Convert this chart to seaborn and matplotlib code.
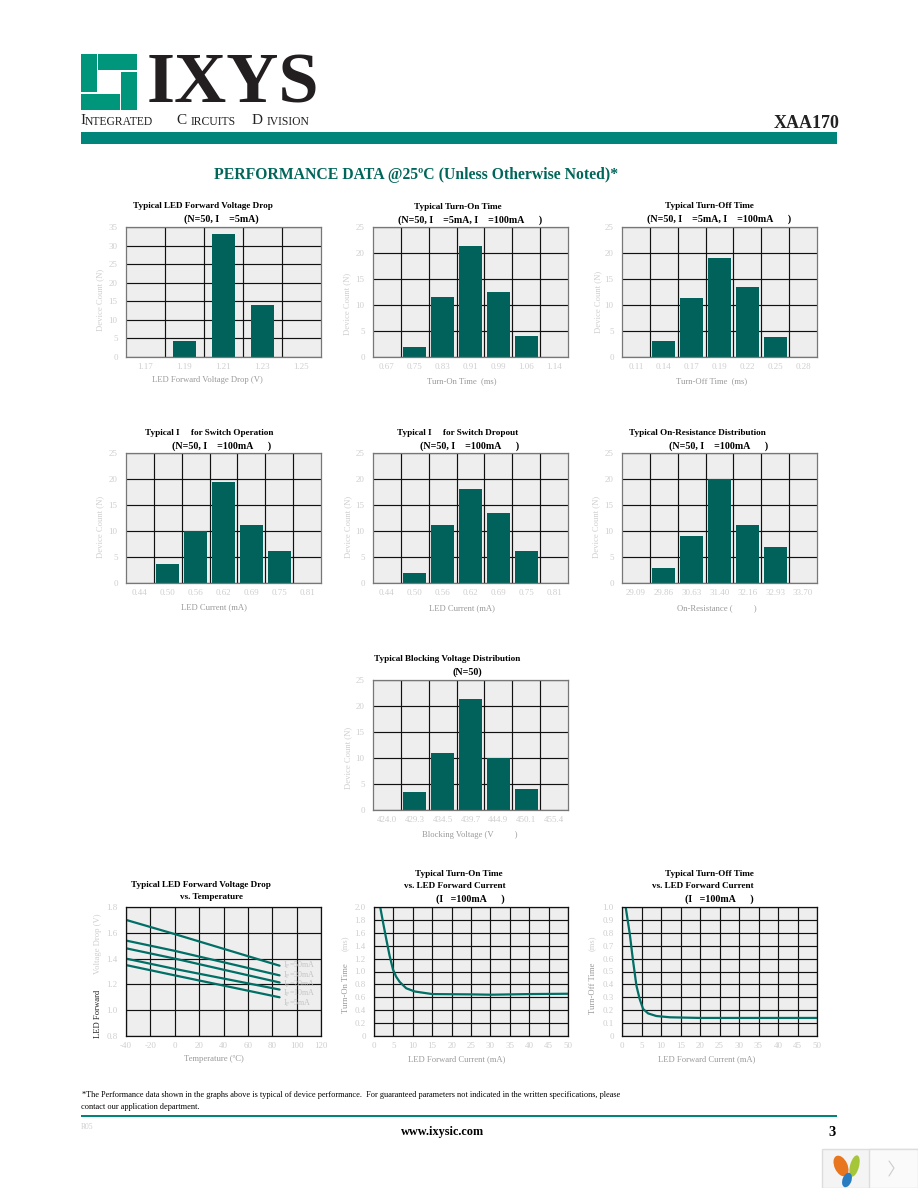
import matplotlib
matplotlib.use("Agg")
import matplotlib.pyplot as plt
import numpy as np
import seaborn as sns
from matplotlib.patches import Ellipse, Rectangle

W, H = 918, 1188

# distribution data
vf_bins = ["1.17", "1.19", "1.21", "1.23", "1.25"]
vf_counts = [0, 4.2, 33, 14, 0]
ton_bins = ["0.67", "0.75", "0.83", "0.91", "0.99", "1.06", "1.14"]
ton_counts = [0, 2, 11.5, 21.3, 12.5, 4.1, 0]
toff_bins = ["0.11", "0.14", "0.17", "0.19", "0.22", "0.25", "0.28"]
toff_counts = [0, 3.1, 11.4, 19, 13.4, 3.9, 0]
led_bins = ["0.44", "0.50", "0.56", "0.62", "0.69", "0.75", "0.81"]
iop_counts = [0, 3.7, 10, 19.4, 11.1, 6.1, 0]
idrop_counts = [0, 1.9, 11.2, 18, 13.5, 6.2, 0]
ron_bins = ["29.09", "29.86", "30.63", "31.40", "32.16", "32.93", "33.70"]
ron_counts = [0, 2.8, 9.1, 20, 11.1, 7, 0]
vb_bins = ["424.0", "429.3", "434.5", "439.7", "444.9", "450.1", "455.4"]
vb_counts = [0, 3.5, 11, 21.4, 10, 4.1, 0]

# curves
temp = [-40, 0, 86]
vf_50ma = [1.70, 1.59, 1.345]
vf_30ma = [1.54, 1.46, 1.27]
vf_20ma = [1.48, 1.40, 1.215]
vf_10ma = [1.40, 1.32, 1.16]
vf_5ma = [1.35, 1.27, 1.10]
vf_names = ["I$_F$=50mA", "I$_F$=30mA", "I$_F$=20mA", "I$_F$=10mA", "I$_F$=5mA"]
ton_if = [1.6, 2.4, 3.2, 4.0, 4.9, 5.7, 6.6, 8.3, 10.5, 15, 25.5, 30, 40, 50]
ton_ms = [2.0, 1.74, 1.49, 1.25, 1.03, 0.92, 0.84, 0.74, 0.69, 0.65, 0.645, 0.64, 0.65, 0.655]
toff_if = [0.94, 2, 2.8, 3.7, 4.5, 5.4, 6.7, 8.8, 12.3, 20, 35, 50]
toff_ms = [1.0, 0.79, 0.59, 0.39, 0.29, 0.21, 0.175, 0.155, 0.145, 0.14, 0.14, 0.14]

DARK = "#00625A"
LINE = "#006F66"
TEAL = "#00857A"
FAINT = "#CFCFCF"
LABEL = "#9A9A9A"

sns.set_theme(style="white")
plt.rcParams["font.family"] = ["Liberation Serif", "DejaVu Serif"]
plt.rcParams["mathtext.default"] = "regular"
plt.rcParams["axes.unicode_minus"] = False

fig = plt.figure(figsize=(W / 100, H / 100), dpi=100, facecolor="white")


def px(x, y):
    return x / W, 1 - y / H


def put(x, y, s, size=6.5, color="black", ha="center", weight="normal", rot=0):
    fx, fy = px(x, y)
    fig.text(fx, fy, s, fontsize=size, color=color, ha=ha, va="center",
             fontweight=weight, rotation=rot)


def make_axes(left, top, right, bottom):
    ax = fig.add_axes([left / W, 1 - bottom / H, (right - left) / W, (bottom - top) / H])
    ax.set_facecolor("#EEEEEE")
    ax.set_axisbelow(True)
    return ax


def finish(ax, edge):
    ax.set_xlabel("")
    ax.set_ylabel("")
    ax.tick_params(which="both", length=0, labelsize=6.5, labelcolor=FAINT)
    ax.tick_params(axis="y", pad=6)
    ax.tick_params(axis="x", pad=4)
    for s in ax.spines.values():
        s.set_visible(True)
        s.set_color(edge)
        s.set_linewidth(0.9)


def bar_panel(box, bins, counts, ymax, width=0.82):
    ax = make_axes(*box)
    sns.barplot(x=bins, y=counts, color=DARK, saturation=1, width=width, linewidth=0, ax=ax)
    ax.set_xlim(-0.5, len(bins) - 0.5)
    ax.set_ylim(0, ymax)
    ax.set_yticks(np.arange(0, ymax + 1, 5))
    ax.set_xticks(np.arange(len(bins) - 1) + 0.5, minor=True)
    ax.grid(True, which="major", axis="y", color="#111111", lw=0.85)
    ax.grid(True, which="minor", axis="x", color="#111111", lw=0.85)
    ax.grid(False, which="major", axis="x")
    finish(ax, "#777777")
    return ax


def line_axes(box, xlim, xstep, ylim, ystep):
    ax = make_axes(*box)
    ax.set_xlim(*xlim)
    ax.set_ylim(*ylim)
    ax.set_xticks(np.arange(xlim[0], xlim[1] + 1, xstep))
    ax.set_yticks(np.arange(ylim[0], ylim[1] + ystep / 2, ystep))
    ax.grid(True, color="#111111", lw=0.85)
    finish(ax, "#111111")
    return ax


bar_panel((126, 227, 321, 357), vf_bins, vf_counts, 35, width=0.59)
bar_panel((373, 227, 568, 357), ton_bins, ton_counts, 25)
bar_panel((622, 227, 817, 357), toff_bins, toff_counts, 25)
bar_panel((126, 453, 321, 583), led_bins, iop_counts, 25)
bar_panel((373, 453, 568, 583), led_bins, idrop_counts, 25)
bar_panel((622, 453, 817, 583), ron_bins, ron_counts, 25)
bar_panel((373, 680, 568, 810), vb_bins, vb_counts, 25)

# forward voltage vs temperature
ax = line_axes((126, 907, 321, 1036), (-40, 120), 20, (0.8, 1.8), 0.2)
ax.set_yticklabels(["0.8", "1.0", "1.2", "1.4", "1.6", "1.8"])
for vals in [vf_50ma, vf_30ma, vf_20ma, vf_10ma, vf_5ma]:
    sns.lineplot(x=temp, y=vals, color=LINE, lw=1.6, ax=ax)
finish(ax, "#111111")
for name, yv in zip(vf_names, [1.345, 1.27, 1.20, 1.13, 1.05]):
    ax.text(89, yv, name, fontsize=5.8, color="#C4C4C4", va="center")

# turn on / turn off vs LED current
ax = line_axes((374, 907, 568, 1036), (0, 50), 5, (0, 2.0), 0.2)
ax.set_yticklabels(["0", "0.2", "0.4", "0.6", "0.8", "1.0", "1.2", "1.4", "1.6", "1.8", "2.0"])
sns.lineplot(x=ton_if, y=ton_ms, color=LINE, lw=1.6, ax=ax)
finish(ax, "#111111")

ax = line_axes((622, 907, 817, 1036), (0, 50), 5, (0, 1.0), 0.1)
ax.set_yticklabels(["0", "0.1", "0.2", "0.3", "0.4", "0.5", "0.6", "0.7", "0.8", "0.9", "1.0"])
sns.lineplot(x=toff_if, y=toff_ms, color=LINE, lw=1.6, ax=ax)
finish(ax, "#111111")

# panel titles
titles = [
    (203, 206, "Typical LED Forward Voltage Drop"), (221, 219, "(N=50, I    =5mA)"),
    (458, 207, "Typical Turn-On Time"), (470, 220, "(N=50, I    =5mA, I    =100mA      )"),
    (709, 206, "Typical Turn-Off Time"), (719, 219, "(N=50, I    =5mA, I    =100mA      )"),
    (209, 433, "Typical I     for Switch Operation"), (222, 446, "(N=50, I    =100mA      )"),
    (458, 433, "Typical I     for Switch Dropout"), (470, 446, "(N=50, I    =100mA      )"),
    (697, 433, "Typical On-Resistance Distribution"), (719, 446, "(N=50, I    =100mA      )"),
    (447, 659, "Typical Blocking Voltage Distribution"), (467, 672, "(N=50)"),
    (201, 885, "Typical LED Forward Voltage Drop"), (212, 897, "vs. Temperature"),
    (459, 874, "Typical Turn-On Time"), (455, 886, "vs. LED Forward Current"), (470, 899, "(I   =100mA      )"),
    (709, 874, "Typical Turn-Off Time"), (703, 886, "vs. LED Forward Current"), (719, 899, "(I   =100mA      )"),
]
for x, y, s in titles:
    put(x, y, s, size=7.2 if s.startswith("(") else 6.6, weight="bold")

# axis labels
x_labels = [
    (207, 380, "LED Forward Voltage Drop (V)"), (462, 381, "Turn-On Time  (ms)"),
    (712, 381, "Turn-Off Time  (ms)"), (214, 607, "LED Current (mA)"),
    (462, 608, "LED Current (mA)"), (717, 608, "On-Resistance (          )"),
    (470, 835, "Blocking Voltage (V          )"), (214, 1059, "Temperature (ºC)"),
    (457, 1059, "LED Forward Current (mA)"), (707, 1059, "LED Forward Current (mA)"),
]
for x, y, s in x_labels:
    put(x, y, s, color=LABEL, size=6.2)

y_labels = [(100, 300), (347, 304), (598, 302), (100, 527), (348, 527), (596, 527), (348, 758)]
for x, y in y_labels:
    put(x, y, "Device Count (N)", color=FAINT, size=6.2, rot=90)
put(98, 1014, "LED Forward", color="#222222", size=6.2, rot=90)
put(98, 944, "Voltage Drop (V)", color=FAINT, size=6.2, rot=90)
put(346, 988, "Turn-On Time", color=LABEL, size=6.2, rot=90)
put(346, 943, "(ms)", color=FAINT, size=6.2, rot=90)
put(593, 988, "Turn-Off Time", color=LABEL, size=6.2, rot=90)
put(593, 943, "(ms)", color=FAINT, size=6.2, rot=90)

# page furniture, drawn in pixel coordinates
page = fig.add_axes([0, 0, 1, 1], zorder=-1)
page.set_xlim(0, W)
page.set_ylim(H, 0)
page.axis("off")
logo = "#00967C"
for x0, y0, x1, y1 in [(81, 54, 97, 92), (98, 54, 137, 70), (121, 72, 137, 110), (81, 94, 120, 110)]:
    page.add_patch(Rectangle((x0, y0), x1 - x0, y1 - y0, color=logo, lw=0))
page.add_patch(Rectangle((81, 132), 756, 12, color=TEAL, lw=0))
page.add_patch(Rectangle((81, 1115), 756, 2, color=TEAL, lw=0))
page.add_patch(Rectangle((822, 1149), 96, 39, facecolor="#F4F4F4", edgecolor="#DDDDDD", lw=1))
page.add_patch(Rectangle((869, 1149), 49, 39, facecolor="#FAFAFA", edgecolor="#DDDDDD", lw=1))
page.plot([889, 894, 889], [1161, 1168, 1176], color="#CCCCCC", lw=0.8)
page.add_patch(Ellipse((841, 1166), 13, 22, angle=-25, color="#E8761E", lw=0))
page.add_patch(Ellipse((854.5, 1166), 9, 22, angle=15, color="#A6C63A", lw=0))
page.add_patch(Ellipse((847, 1180), 9, 15, angle=20, color="#2A7CC0", lw=0))

put(147, 85, "IXYS", size=52, color="#231F20", ha="left", weight="bold")
put(80, 121, "I", size=11, ha="left", color="#222222")
put(85, 122, "NTEGRATED", size=8.4, ha="left", color="#222222")
put(176, 121, "C", size=11, ha="left", color="#222222")
put(191, 122, "IRCUITS", size=8.4, ha="left", color="#222222")
put(252, 121, "D", size=11, ha="left", color="#222222")
put(267, 122, "IVISION", size=8.4, ha="left", color="#222222")
put(840, 123, "XAA170", size=13, ha="right", weight="bold", color="#222222")
put(416, 175, "PERFORMANCE DATA @25ºC (Unless Otherwise Noted)*", size=11.3,
    color="#00665A", weight="bold")
put(82, 1095, "*The Performance data shown in the graphs above is typical of device performance.  "
    "For guaranteed parameters not indicated in the written specifications, please", size=5.95, ha="left")
put(81, 1107, "contact our application department.", size=5.95, ha="left")
put(81, 1127, "R05", size=5.5, ha="left", color=FAINT)
put(443, 1132, "www.ixysic.com", size=8.8, weight="bold")
put(832, 1132, "3", size=10.5, weight="bold")

fig.savefig("out.png", dpi=100)
